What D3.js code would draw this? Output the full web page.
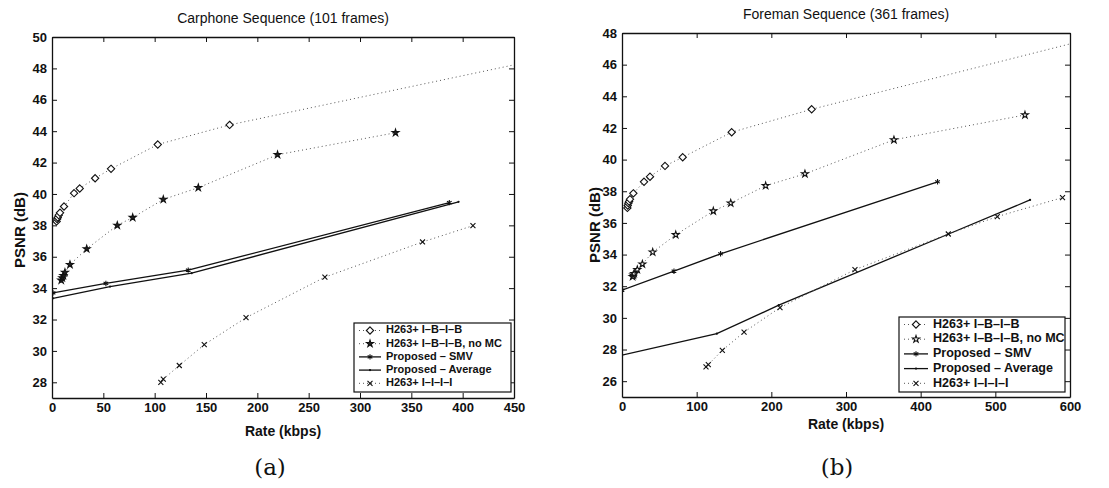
<!DOCTYPE html>
<html>
<head>
<meta charset="utf-8">
<script src="https://cdn.jsdelivr.net/npm/d3@7"></script>
<style>
body { margin: 0; background: #fff; }
text { font-family: "Liberation Sans", Arial, sans-serif; fill: #111; }
</style>
</head>
<body>
<svg width="1109" height="488"></svg>
<script>
// Carphone (101 frames) -- [rate kbps, psnr dB]
const carphoneIBIB = [[4.5,38.25],[5,38.4],[5.6,38.5],[6.5,38.65],[7.8,38.8],[11.7,39.2],[21.5,40.05],[27,40.35],[42,41.0],[57.5,41.6],[103,43.15],[173,44.4],[470,48.5]];
const carphoneNoMC = [[9,34.5],[10,34.65],[11,34.8],[12.6,35.0],[17.5,35.5],[33.8,36.5],[63.6,38.0],[78.6,38.5],[108.4,39.65],[142.5,40.4],[219.7,42.5],[334.6,43.9]];
const carphoneSMV = [[1,33.7],[52.5,34.3],[132.7,35.15],[387,39.45]];
const carphoneAvg = [[1,33.35],[56.5,34.1],[136,34.95],[396,39.5]];
const carphoneIIII = [[106,28.0],[108.4,28.2],[124,29.07],[148.3,30.4],[189,32.12],[265.8,34.7],[360.9,36.94],[410,37.98]];

// Foreman (361 frames)
const foremanIBIB = [[7.2,36.95],[7.7,37.1],[8.5,37.25],[9.5,37.35],[10.7,37.5],[15.2,37.87],[29.5,38.6],[37.5,38.92],[57.6,39.6],[81.3,40.15],[146.9,41.73],[254,43.18],[620,47.55]];
const foremanNoMC = [[14.2,32.6],[15.2,32.7],[16.3,32.8],[20.5,33.05],[27.3,33.4],[41.1,34.15],[72,35.25],[122.3,36.75],[145.6,37.25],[192.4,38.35],[245,39.1],[364.2,41.25],[539.7,42.82]];
const foremanSMV = [[0,31.75],[69.6,32.95],[132,34.05],[422.6,38.6]];
const foremanAvg = [[0,27.65],[127,29.0],[210,30.8],[437.5,35.3],[546.5,37.45]];
const foremanIIII = [[112.5,26.9],[115.6,27.05],[134.4,27.95],[163.5,29.1],[211.6,30.65],[312,33.05],[437,35.3],[502.6,36.4],[590,37.6]];

const legendLabels = ["H263+ I\u2013B\u2013I\u2013B", "H263+ I\u2013B\u2013I\u2013B, no MC", "Proposed \u2013 SMV", "Proposed \u2013 Average", "H263+ I\u2013I\u2013I\u2013I"];

const svg = d3.select("svg");

// marker styles per series
function seriesStyles(starFill) {
  return [
    { dotted: true, sym: d3.symbolDiamond2, size: 34, fill: "white", stroke: true },
    { dotted: true, sym: d3.symbolStar, size: 15, fill: starFill, stroke: true },
    { dotted: false, sym: d3.symbolAsterisk, size: 20, fill: "none", stroke: true },
    { dotted: false, sym: d3.symbolCircle, size: 4, fill: "#111", stroke: false },
    { dotted: true, sym: d3.symbolTimes, size: 18, fill: "none", stroke: true }
  ];
}

function drawMarker(g, st, x, y) {
  g.append("path")
    .attr("transform", "translate(" + x + "," + y + ")")
    .attr("d", d3.symbol(st.sym, st.size)())
    .attr("fill", st.fill)
    .attr("stroke", st.stroke ? "#111" : "none")
    .attr("stroke-width", 1.1);
}

function drawPanel(cfg) {
  const x = d3.scaleLinear().domain(cfg.xDomain).range([cfg.left, cfg.right]);
  const y = d3.scaleLinear().domain(cfg.yDomain).range([cfg.bottom, cfg.top]);
  const g = svg.append("g");
  const styles = seriesStyles(cfg.starFill);

  g.append("clipPath").attr("id", cfg.id + "clip")
    .append("rect")
    .attr("x", cfg.left).attr("y", cfg.top)
    .attr("width", cfg.right - cfg.left).attr("height", cfg.bottom - cfg.top);

  // axes with inward ticks on all four sides
  const xTicks = d3.range(cfg.xDomain[0], cfg.xDomain[1] + 1, cfg.xStep);
  const yTicks = d3.range(cfg.yTick0, cfg.yDomain[1] + 0.1, 2);

  g.append("g").attr("transform", "translate(0," + cfg.bottom + ")")
    .call(d3.axisBottom(x).tickValues(xTicks).tickSize(-5).tickPadding(5).tickSizeOuter(0));
  g.append("g").attr("transform", "translate(0," + cfg.top + ")")
    .call(d3.axisTop(x).tickValues(xTicks).tickSize(-5).tickFormat("").tickSizeOuter(0));
  g.append("g").attr("transform", "translate(" + cfg.left + ",0)")
    .call(d3.axisLeft(y).tickValues(yTicks).tickSize(-5).tickPadding(5).tickSizeOuter(0));
  g.append("g").attr("transform", "translate(" + cfg.right + ",0)")
    .call(d3.axisRight(y).tickValues(yTicks).tickSize(-5).tickFormat("").tickSizeOuter(0));

  g.selectAll(".domain").attr("stroke", "#111").attr("stroke-width", 1.3);
  g.selectAll(".tick line").attr("stroke", "#111");
  g.selectAll(".tick text").attr("font-size", 13).attr("font-weight", "bold")
    .attr("font-family", "Liberation Sans, Arial, sans-serif").attr("fill", "#111");

  // series
  const plot = g.append("g").attr("clip-path", "url(#" + cfg.id + "clip)");
  const line = d3.line().x(d => x(d[0])).y(d => y(d[1]));
  cfg.series.forEach((data, i) => {
    const st = styles[i];
    plot.append("path")
      .datum(data)
      .attr("d", line)
      .attr("fill", "none")
      .attr("stroke", st.dotted ? "#555" : "#111")
      .attr("stroke-width", st.dotted ? 1 : 1.3)
      .attr("stroke-dasharray", st.dotted ? "1,3" : null);
    data.forEach(d => drawMarker(plot, st, x(d[0]), y(d[1])));
  });

  // labels
  g.append("text").attr("x", (cfg.left + cfg.right) / 2).attr("y", cfg.top - 14)
    .attr("text-anchor", "middle").attr("font-size", 14).text(cfg.title);
  g.append("text").attr("x", (cfg.left + cfg.right) / 2).attr("y", cfg.xLabelY)
    .attr("text-anchor", "middle").attr("font-size", 14).attr("font-weight", "bold").text("Rate (kbps)");
  g.append("text")
    .attr("transform", "translate(" + cfg.yLabelX + "," + cfg.yLabelY + ") rotate(-90)")
    .attr("text-anchor", "middle").attr("dominant-baseline", "middle")
    .attr("font-size", 15).attr("font-weight", "bold").text("PSNR (dB)");
  g.append("text").attr("x", cfg.capX).attr("y", 475)
    .attr("text-anchor", "middle").attr("font-size", 23)
    .style("font-family", "DejaVu Serif, Liberation Serif, serif").text(cfg.caption);

  // legend
  const lg = cfg.legend;
  const leg = g.append("g");
  leg.append("rect").attr("x", lg.x).attr("y", lg.y).attr("width", lg.w).attr("height", lg.h)
    .attr("fill", "white").attr("stroke", "#111").attr("stroke-width", 1.2);
  legendLabels.forEach((lab, i) => {
    const st = styles[i];
    const ry = lg.y + lg.first + i * lg.step;
    leg.append("line").attr("x1", lg.x + 5).attr("x2", lg.x + 5 + lg.sample).attr("y1", ry).attr("y2", ry)
      .attr("stroke", st.dotted ? "#555" : "#111").attr("stroke-width", st.dotted ? 1 : 1.3)
      .attr("stroke-dasharray", st.dotted ? "1,3" : null);
    drawMarker(leg, st, lg.x + 5 + lg.sample / 2, ry);
    leg.append("text").attr("x", lg.x + 10 + lg.sample).attr("y", ry)
      .attr("dominant-baseline", "middle").attr("font-size", lg.font).attr("font-weight", "bold").text(lab);
  });
}

drawPanel({
  id: "carphone", title: "Carphone Sequence (101 frames)", caption: "(a)",
  left: 52, right: 514, top: 37, bottom: 398,
  xDomain: [0, 450], xStep: 50, yDomain: [27, 50], yTick0: 28,
  xLabelY: 436, yLabelX: 21, yLabelY: 230, capX: 270, starFill: "#222",
  series: [carphoneIBIB, carphoneNoMC, carphoneSMV, carphoneAvg, carphoneIIII],
  legend: { x: 354, y: 323, w: 157, h: 69, first: 7.5, step: 13.2, sample: 22, font: 11 }
});

drawPanel({
  id: "foreman", title: "Foreman Sequence (361 frames)", caption: "(b)",
  left: 622, right: 1070, top: 33, bottom: 397,
  xDomain: [0, 600], xStep: 100, yDomain: [25, 48], yTick0: 26,
  xLabelY: 429, yLabelX: 596, yLabelY: 225, capX: 837, starFill: "white",
  series: [foremanIBIB, foremanNoMC, foremanSMV, foremanAvg, foremanIIII],
  legend: { x: 899, y: 317, w: 166, h: 75, first: 7.5, step: 14.7, sample: 24, font: 12.5 }
});
</script>
</body>
</html>
